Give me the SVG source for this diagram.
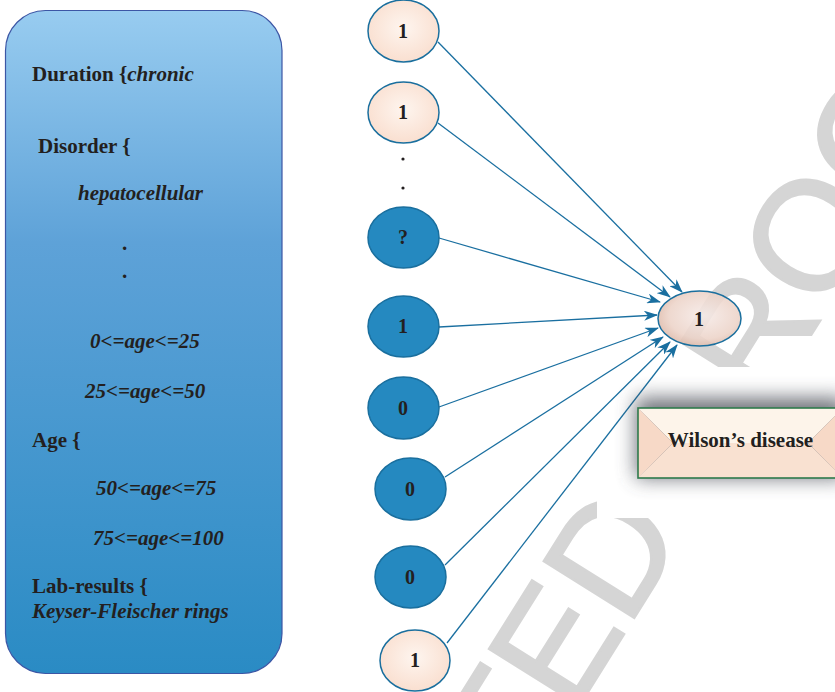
<svg xmlns="http://www.w3.org/2000/svg" width="835" height="692" viewBox="0 0 835 692">
  <defs>
    <linearGradient id="panelFill" x1="0" y1="0" x2="0" y2="1">
      <stop offset="0" stop-color="#98ccf0"/>
      <stop offset="0.35" stop-color="#5ea2d8"/>
      <stop offset="1" stop-color="#2a8bc4"/>
    </linearGradient>
    <radialGradient id="peachFill" cx="0.5" cy="0.45" r="0.6">
      <stop offset="0" stop-color="#fef5ef"/>
      <stop offset="1" stop-color="#f9ddcd"/>
    </radialGradient>
    <radialGradient id="outFill" cx="0.55" cy="0.45" r="0.6">
      <stop offset="0" stop-color="#f6ebe8"/>
      <stop offset="0.7" stop-color="#ecd3c8"/>
      <stop offset="1" stop-color="#dcb6a5"/>
    </radialGradient>
    <filter id="boxShadow" x="-30%" y="-80%" width="160%" height="260%">
      <feGaussianBlur stdDeviation="10"/>
    </filter>
    <marker id="arrow" viewBox="0 0 14 10" refX="13" refY="5" markerWidth="14" markerHeight="10" markerUnits="userSpaceOnUse" orient="auto">
      <path d="M0,0 L14,5 L0,10 L4,5 Z" fill="#1a6fa0"/>
    </marker>
    <style>
      .lbl { font-family: "Liberation Serif", "Times New Roman", serif; font-weight: bold; font-size: 21px; fill: #231f20; }
      .it { font-style: italic; }
      .node-txt { font-family: "Liberation Serif", "Times New Roman", serif; font-weight: bold; font-size: 20px; fill: #231f20; text-anchor: middle; }
      .peach { fill: url(#peachFill); stroke: #1a6f9e; stroke-width: 1.5; }
      .blue { fill: #2589c0; stroke: #1a6f9e; stroke-width: 1.5; }
      .edge { stroke: #1a6fa0; stroke-width: 1.3; fill: none; marker-end: url(#arrow); }
      .mark { font-family: "Liberation Sans", Arial, sans-serif; font-size: 155px; fill: #d5d5d5; stroke: #d5d5d5; stroke-width: 2.5; stroke-linejoin: miter; }
    </style>
  </defs>

  <rect width="835" height="692" fill="#ffffff"/>

  <!-- background stamp -->
  <text class="mark" transform="translate(239.6,1249.4) rotate(-58)" x="0" y="0">ACCEPTED PROOF</text>
  <rect x="597" y="367" width="238" height="151" fill="#ffffff"/>

  <!-- attribute panel -->
  <g id="attributes">
    <rect x="5.5" y="10.5" width="276.5" height="663" rx="40" ry="40" fill="url(#panelFill)" stroke="#3c56a5" stroke-width="1.2"/>
    <text class="lbl" x="32" y="81">Duration {<tspan class="it">chronic</tspan></text>
    <text class="lbl" x="38" y="153">Disorder {</text>
    <text class="lbl it" x="78" y="200">hepatocellular</text>
    <text class="lbl" x="122" y="250">.</text>
    <text class="lbl" x="122" y="278">.</text>
    <text class="lbl it" x="90" y="348">0&lt;=age&lt;=25</text>
    <text class="lbl it" x="85" y="398">25&lt;=age&lt;=50</text>
    <text class="lbl" x="32" y="447">Age {</text>
    <text class="lbl it" x="96" y="495">50&lt;=age&lt;=75</text>
    <text class="lbl it" x="93" y="545">75&lt;=age&lt;=100</text>
    <text class="lbl" x="32" y="593">Lab-results {</text>
    <text class="lbl it" x="32" y="618">Keyser-Fleischer rings</text>
  </g>

  <!-- connectors -->
  <g id="connectors">
    <line class="edge" x1="438" y1="42" x2="682" y2="292"/>
    <line class="edge" x1="438" y1="123" x2="670" y2="297"/>
    <line class="edge" x1="439" y1="238" x2="660" y2="302"/>
    <line class="edge" x1="439" y1="327" x2="657" y2="315"/>
    <line class="edge" x1="439" y1="407" x2="658" y2="328"/>
    <line class="edge" x1="445" y1="477" x2="663" y2="337"/>
    <line class="edge" x1="445" y1="565" x2="670" y2="342"/>
    <line class="edge" x1="447" y1="643" x2="677" y2="345"/>
  </g>

  <!-- input nodes -->
  <g id="in1">
    <ellipse class="peach" cx="403.5" cy="31" rx="35.5" ry="31"/>
    <text class="node-txt" x="403" y="38">1</text>
  </g>
  <g id="in2">
    <ellipse class="peach" cx="403.5" cy="112.5" rx="35.5" ry="30.5"/>
    <text class="node-txt" x="403" y="119">1</text>
  </g>
  <g id="gap">
    <circle cx="403" cy="159" r="1.6" fill="#231f20"/>
    <circle cx="403" cy="188" r="1.6" fill="#231f20"/>
  </g>
  <g id="in3">
    <ellipse class="blue" cx="403.5" cy="237.5" rx="35.5" ry="30.5"/>
    <text class="node-txt" x="403" y="244">?</text>
  </g>
  <g id="in4">
    <ellipse class="blue" cx="403.5" cy="326.5" rx="35.5" ry="30.5"/>
    <text class="node-txt" x="403" y="333">1</text>
  </g>
  <g id="in5">
    <ellipse class="blue" cx="403.5" cy="408" rx="35.5" ry="31"/>
    <text class="node-txt" x="403" y="415">0</text>
  </g>
  <g id="in6">
    <ellipse class="blue" cx="410.5" cy="489" rx="35.5" ry="31"/>
    <text class="node-txt" x="410" y="496">0</text>
  </g>
  <g id="in7">
    <ellipse class="blue" cx="410.5" cy="577" rx="35.5" ry="31"/>
    <text class="node-txt" x="410" y="584">0</text>
  </g>
  <g id="in8">
    <ellipse class="peach" cx="415" cy="660.5" rx="35" ry="30.5"/>
    <text class="node-txt" x="415" y="667">1</text>
  </g>

  <!-- output node -->
  <g id="out">
    <ellipse cx="699.5" cy="318.5" rx="41.5" ry="27.5" fill="url(#outFill)" fill-opacity="0.88" stroke="#1a6f9e" stroke-width="1.5"/>
    <text class="node-txt" x="699" y="325.5">1</text>
  </g>

  <!-- result label -->
  <g id="result">
    <rect x="636" y="398" width="209" height="80" fill="#4a4e57" opacity="0.8" filter="url(#boxShadow)"/>
    <polygon points="638,408 843,408 808,443 673,443" fill="#fdf4ea"/>
    <polygon points="638,408 673,443 638,478" fill="#f7d9c7"/>
    <polygon points="843,408 808,443 843,478" fill="#f7d9c7"/>
    <polygon points="638,478 673,443 808,443 843,478" fill="#f9e1d1"/>
    <rect x="638" y="408" width="205" height="70" fill="none" stroke="#2e7a4c" stroke-width="1.6"/>
    <text class="node-txt" x="740.5" y="447" style="font-size:21px">Wilson’s disease</text>
  </g>
</svg>
